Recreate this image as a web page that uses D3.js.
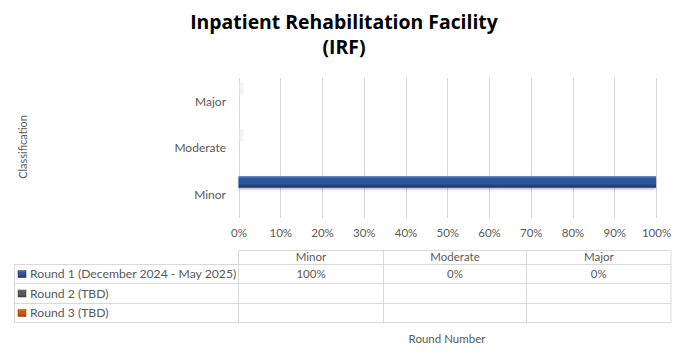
<!DOCTYPE html>
<html><head><meta charset="utf-8">
<script src="https://cdn.jsdelivr.net/npm/d3@7/dist/d3.min.js"></script>
<style>html,body{margin:0;padding:0;background:#fff;}svg{display:block;}</style>
</head><body>
<script>
const categories = ["Minor", "Moderate", "Major"];
const seriesNames = ["Round 1 (December 2024 - May 2025)", "Round 2 (TBD)", "Round 3 (TBD)"];
const round1 = [1, 0, 0];
const round2 = [null, null, null];
const round3 = [null, null, null];
const xTicks = [0, 0.1, 0.2, 0.3, 0.4, 0.5, 0.6, 0.7, 0.8, 0.9, 1];
const titleLines = ["Inpatient Rehabilitation Facility", "(IRF)"];
const yTitle = "Classification";
const xTitle = "Round Number";

const seriesValues = [round1, round2, round3];
const seriesColors = [
  ["#6a90d2", "#2f5597", "#16305f"],
  ["#8a8a8a", "#595959", "#3a3a3a"],
  ["#f08a3c", "#c55a11", "#8a3c08"]
];

const W = 688, H = 363;
const font = "Lato, 'Open Sans', sans-serif";
const textCol = "#595959";
const gridCol = "#d9d9d9";

const svg = d3.select("body").append("svg").attr("width", W).attr("height", H);
const defs = svg.append("defs");
seriesColors.forEach((c, i) => {
  const g = defs.append("linearGradient").attr("id", "grad" + i)
    .attr("x1", 0).attr("y1", 0).attr("x2", 0).attr("y2", 1);
  g.append("stop").attr("offset", "0%").attr("stop-color", c[0]);
  g.append("stop").attr("offset", "22%").attr("stop-color", c[1]);
  g.append("stop").attr("offset", "65%").attr("stop-color", c[1]);
  g.append("stop").attr("offset", "100%").attr("stop-color", c[2]);
});
const f = defs.append("filter").attr("id", "shadow").attr("x", "-5%").attr("y", "-50%").attr("width", "110%").attr("height", "220%");
f.append("feDropShadow").attr("dx", 0).attr("dy", 1.5).attr("stdDeviation", 1.2).attr("flood-color", "#000").attr("flood-opacity", 0.3);

// Title
svg.append("g").selectAll("text").data(titleLines).join("text")
  .attr("x", 344).attr("y", (d, i) => 29 + i * 25)
  .attr("text-anchor", "middle")
  .attr("font-family", "'Open Sans', Lato, sans-serif").attr("font-weight", "bold").attr("font-size", 19.4)
  .attr("fill", "#000").text(d => d);

// Scales
const x = d3.scaleLinear().domain([0, 1]).range([238.5, 656]);
const y = d3.scaleBand().domain(categories.slice().reverse()).range([78, 218]);
const ys = d3.scaleBand().domain(seriesNames).range([y.bandwidth() * 0.1, y.bandwidth() * 0.85]);

// Grid
svg.append("g").selectAll("line").data(xTicks).join("line")
  .attr("x1", d => Math.round(x(d)) + 0.5).attr("x2", d => Math.round(x(d)) + 0.5)
  .attr("y1", 78).attr("y2", 218)
  .attr("stroke", gridCol).attr("stroke-width", 1);

// X axis labels
const xAxis = d3.axisBottom(x).tickValues(xTicks).tickFormat(d3.format(".0%")).tickSize(0).tickPadding(0);
const xg = svg.append("g").attr("transform", "translate(0,237)").call(xAxis);
xg.select(".domain").remove();
xg.selectAll("text").attr("font-family", font).attr("font-size", 11.5).attr("fill", textCol).attr("dy", 0);

// Y axis labels
const yAxis = d3.axisLeft(y).tickSize(0).tickPadding(0);
const yg = svg.append("g").attr("transform", "translate(226,0)").call(yAxis);
yg.select(".domain").remove();
yg.selectAll("text").attr("font-family", font).attr("font-size", 12).attr("fill", textCol).attr("dy", "0.35em");

// Y title
svg.append("text").attr("transform", "translate(27,147) rotate(-90)")
  .attr("text-anchor", "middle").attr("font-family", font).attr("font-size", 11)
  .attr("fill", textCol).text(yTitle);

// Bars
seriesNames.forEach((s, si) => {
  const data = categories.map((c, ci) => ({c, v: seriesValues[si][ci]})).filter(d => d.v !== null);
  const g = svg.append("g");
  g.selectAll("rect.bar").data(data.filter(d => d.v > 0)).join("rect").attr("class", "bar")
    .attr("x", x(0)).attr("y", d => y(d.c) + ys(s))
    .attr("width", d => x(d.v) - x(0)).attr("height", ys.bandwidth())
    .attr("fill", "url(#grad" + si + ")").attr("filter", "url(#shadow)");
  g.selectAll("rect.zero").data(data.filter(d => d.v === 0)).join("rect").attr("class", "zero")
    .attr("x", x(0) + 1).attr("y", d => y(d.c) + ys(s))
    .attr("width", 4).attr("height", ys.bandwidth())
    .attr("fill", "#eeeeee").attr("opacity", 0.7);
});

// Data table
const colEdges = [238.5, 383.5, 526.5, 671];
const rowEdges = [250.5, 264.5, 283.5, 303.5, 322.5];
const leftEdge = 14.5;
const tg = svg.append("g").attr("stroke", gridCol).attr("stroke-width", 1).attr("fill", "none");
tg.append("line").attr("x1", colEdges[0]).attr("x2", colEdges[3]).attr("y1", rowEdges[0]).attr("y2", rowEdges[0]);
rowEdges.slice(1).forEach(r => tg.append("line").attr("x1", leftEdge).attr("x2", colEdges[3]).attr("y1", r).attr("y2", r));
colEdges.forEach(c => tg.append("line").attr("x1", c).attr("x2", c).attr("y1", rowEdges[0]).attr("y2", rowEdges[4]));
tg.append("line").attr("x1", leftEdge).attr("x2", leftEdge).attr("y1", rowEdges[1]).attr("y2", rowEdges[4]);

// header text
svg.append("g").selectAll("text").data(categories).join("text")
  .attr("x", (d, i) => (colEdges[i] + colEdges[i + 1]) / 2).attr("y", 261)
  .attr("text-anchor", "middle").attr("font-family", font).attr("font-size", 11.5)
  .attr("fill", textCol).text(d => d);

// rows
seriesNames.forEach((s, si) => {
  const ry = rowEdges[si + 1];
  const cy = (ry + rowEdges[si + 2]) / 2;
  svg.append("rect").attr("x", 18).attr("y", cy - 3.5).attr("width", 8).attr("height", 7)
    .attr("fill", "url(#grad" + si + ")").attr("stroke", seriesColors[si][2]).attr("stroke-width", 0.5);
  svg.append("text").attr("x", 30).attr("y", cy + 4)
    .attr("font-family", font).attr("font-size", 12.2).attr("fill", textCol).text(s);
  categories.forEach((c, ci) => {
    const v = seriesValues[si][ci];
    if (v === null) return;
    svg.append("text").attr("x", (colEdges[ci] + colEdges[ci + 1]) / 2).attr("y", cy + 4)
      .attr("text-anchor", "middle").attr("font-family", font).attr("font-size", 11.5)
      .attr("fill", textCol).text(d3.format(".0%")(v));
  });
});

// X title
svg.append("text").attr("x", 447).attr("y", 343).attr("text-anchor", "middle")
  .attr("font-family", font).attr("font-size", 11.5).attr("fill", textCol).text(xTitle);
</script>
</body></html>
